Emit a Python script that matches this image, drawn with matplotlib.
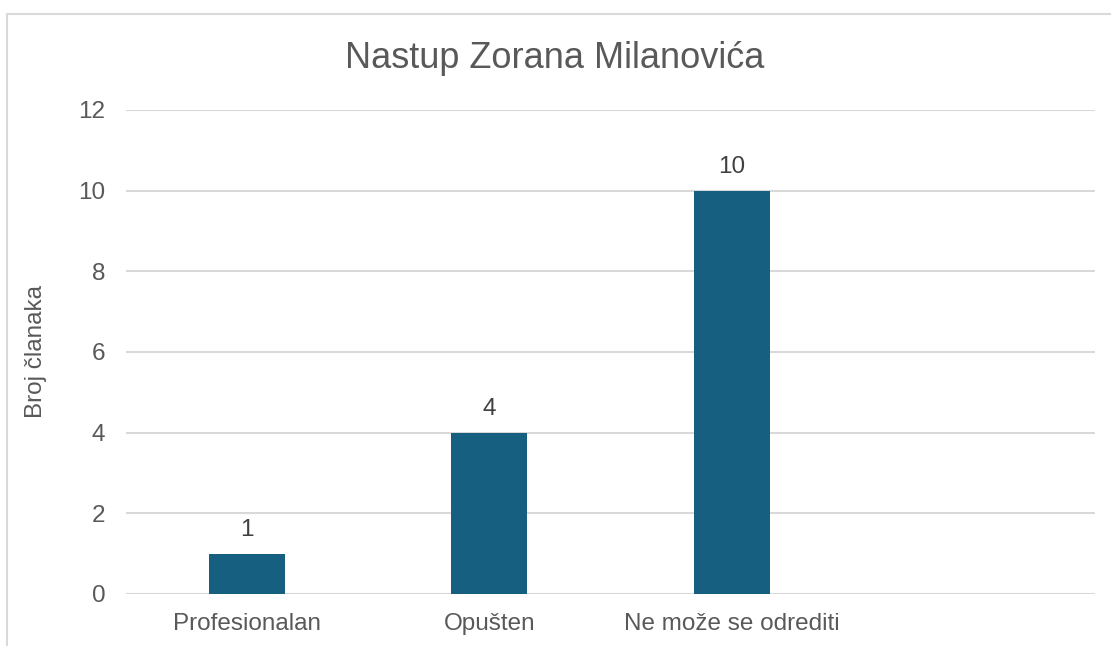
import matplotlib
matplotlib.use('Agg')
import matplotlib.pyplot as plt
from matplotlib.patches import Rectangle

categories = ['Profesionalan', 'Opušten', 'Ne može se odrediti', '']
values = [1, 4, 10, None]
yticks = [0, 2, 4, 6, 8, 10, 12]

BAR_COLOR = '#175f80'
TEXT_COLOR = '#595959'
GRID_COLOR = '#d9d9d9'

plt.rcParams['font.family'] = ['Liberation Sans', 'DejaVu Sans']

W, H = 1111, 646
fig = plt.figure(figsize=(W / 100, H / 100), dpi=100)

# outer chart frame (only top and left edges fall inside the image)
fig.patches.append(Rectangle((7 / W, -0.1), 1.2, 1 - 14 / H + 0.1,
                             transform=fig.transFigure, fill=False,
                             edgecolor=GRID_COLOR, lw=1.5))

ax = fig.add_axes([126 / W, 1 - 594 / H, (1095 - 126) / W, (594 - 110) / H])

xs = list(range(len(categories)))
bar_x = [x for x, v in zip(xs, values) if v is not None]
bar_v = [v for v in values if v is not None]
bars = ax.bar(bar_x, bar_v, width=0.314, color=BAR_COLOR, zorder=3)
for rect, v in zip(bars, bar_v):
    ax.annotate(str(v), (rect.get_x() + rect.get_width() / 2, v),
                xytext=(0, 9), textcoords='offset points',
                ha='center', va='bottom', fontsize=17.5, color='#404040')

ax.set_xlim(-0.5, len(categories) - 0.5)
ax.set_ylim(0, 12)
ax.set_yticks(yticks)
ax.set_xticks(xs)
ax.set_xticklabels(categories)
ax.tick_params(axis='both', length=0, labelsize=17.5, labelcolor=TEXT_COLOR)
ax.tick_params(axis='y', pad=15)
ax.tick_params(axis='x', pad=14)
ax.grid(axis='y', color=GRID_COLOR, lw=1.5, zorder=0)
for s in ax.spines.values():
    s.set_visible(False)

ax.set_ylabel('Broj članaka', fontsize=17.5, color=TEXT_COLOR, labelpad=22)
fig.text(555 / W, 1 - 58 / H, 'Nastup Zorana Milanovića',
         ha='center', va='center', fontsize=26, color=TEXT_COLOR)

fig.savefig('out.png', dpi=100)
